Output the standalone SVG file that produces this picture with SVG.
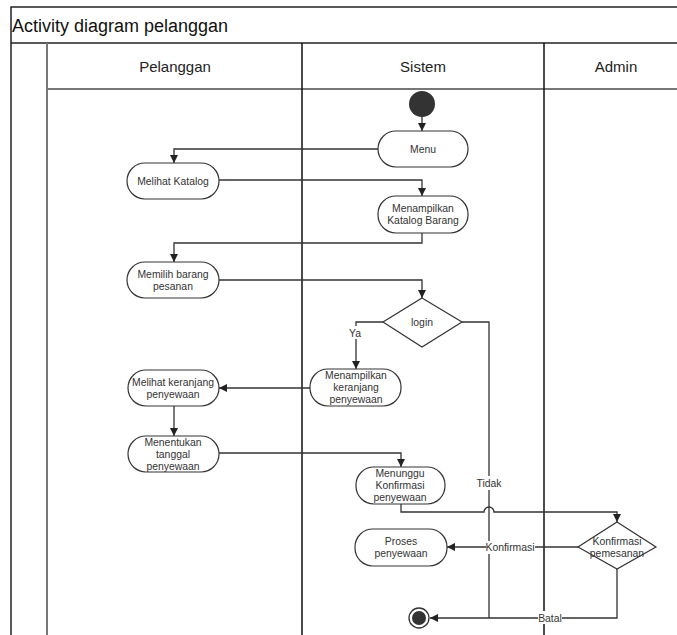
<svg xmlns="http://www.w3.org/2000/svg" width="677" height="635" viewBox="0 0 677 635">
<defs>
<style>
.frame{fill:none;stroke:#222;stroke-width:1.5}
.gray{fill:none;stroke:#777;stroke-width:2}
.lane{fill:none;stroke:#111;stroke-width:1.5}
.node{fill:#fff;stroke:#333;stroke-width:1.2}
.t{font-family:"Liberation Sans",Arial,sans-serif;font-size:10.4px;fill:#333;text-anchor:middle}
.hd{font-family:"Liberation Sans",Arial,sans-serif;font-size:15px;fill:#222;text-anchor:middle}
.ttl{font-family:"Liberation Sans",Arial,sans-serif;font-size:18px;fill:#111}
.c{fill:none;stroke:#333;stroke-width:1.3}
.ca{fill:none;stroke:#333;stroke-width:1.3;marker-end:url(#ah)}
.lbg{fill:#fff}
</style>
<marker id="ah" viewBox="0 0 8 8" refX="8" refY="4" markerWidth="8" markerHeight="8" markerUnits="userSpaceOnUse" orient="auto">
<path d="M0,0 L8,4 L0,8 z" fill="#222"/>
</marker>
</defs>
<rect x="0" y="0" width="677" height="635" fill="#fff"/>
<g id="frame">
<path class="frame" d="M11,635 V7 H690"/>
<path class="frame" d="M11,43 H690" stroke="#444"/>
<text class="ttl" x="12" y="32">Activity diagram pelanggan</text>
<path class="gray" d="M47,43 V635"/>
<path class="gray" d="M47,89 H690"/>
<path class="lane" d="M302,43 V635"/>
<path class="lane" d="M544,43 V635"/>
<text class="hd" x="175" y="72">Pelanggan</text>
<text class="hd" x="423" y="72">Sistem</text>
<text class="hd" x="616" y="72">Admin</text>
</g>
<g id="connectors">
<path class="ca" d="M422,117 V131"/>
<path class="ca" d="M378,149 H174 V163"/>
<path class="ca" d="M219,180 H422 V196"/>
<path class="ca" d="M422,233 V243 H174 V262"/>
<path class="ca" d="M219,280 H422 V298"/>
<path class="ca" d="M383,322 H356 V369"/>
<path class="c" d="M462,322 H489 V618"/>
<path class="ca" d="M310,388 H219"/>
<path class="ca" d="M174,406 V436"/>
<path class="ca" d="M219,453 H401 V467"/>
<path class="ca" d="M401,504 V512 H484 A5,5 0 0 1 494,512 H617 V522"/>
<path class="ca" d="M578,547 H447"/>
<path class="ca" d="M617,569 V618 H430"/>
</g>
<g id="start"><circle cx="422" cy="104" r="13" fill="#333"/></g>
<g id="menu"><rect class="node" x="378" y="131" width="90" height="36" rx="18"/><text class="t" x="423" y="152.6">Menu</text></g>
<g id="melihat-katalog"><rect class="node" x="127" y="163" width="92" height="36" rx="18"/><text class="t" x="173" y="184.6">Melihat Katalog</text></g>
<g id="menampilkan-katalog"><rect class="node" x="378" y="196" width="90" height="37" rx="18"/><text class="t" x="423" y="212">Menampilkan</text><text class="t" x="423" y="224">Katalog Barang</text></g>
<g id="memilih"><rect class="node" x="127" y="262" width="92" height="36" rx="18"/><text class="t" x="173" y="277.6">Memilih barang</text><text class="t" x="173" y="289.6">pesanan</text></g>
<g id="login"><path class="node" d="M422,298 L462,322 L422,347 L383,322 Z"/><text class="t" x="422" y="325.6">login</text></g>
<g id="menampilkan-keranjang"><rect class="node" x="310" y="369" width="91" height="37" rx="18"/><text class="t" x="356" y="379">Menampilkan</text><text class="t" x="356" y="391">keranjang</text><text class="t" x="356" y="403">penyewaan</text></g>
<g id="melihat-keranjang"><rect class="node" x="128" y="370" width="91" height="36" rx="18"/><text class="t" x="173" y="385.6">Melihat keranjang</text><text class="t" x="173" y="397.6">penyewaan</text></g>
<g id="menentukan"><rect class="node" x="128" y="436" width="91" height="36" rx="18"/><text class="t" x="173" y="445.6">Menentukan</text><text class="t" x="173" y="457.6">tanggal</text><text class="t" x="173" y="469.6">penyewaan</text></g>
<g id="menunggu"><rect class="node" x="356" y="467" width="89" height="37" rx="18"/><text class="t" x="400" y="476.6">Menunggu</text><text class="t" x="400" y="488.6">Konfirmasi</text><text class="t" x="400" y="500.6">penyewaan</text></g>
<g id="konfirmasi-pemesanan"><path class="node" d="M617,522 L656,547 L617,569 L578,547 Z"/><text class="t" x="617" y="544.6">Konfirmasi</text><text class="t" x="617" y="556.6">pemesanan</text></g>
<g id="proses"><rect class="node" x="355" y="529" width="92" height="37" rx="18"/><text class="t" x="401" y="544.6">Proses</text><text class="t" x="401" y="556.6">penyewaan</text></g>
<g id="end"><circle cx="419" cy="618" r="10" fill="#fff" stroke="#333" stroke-width="1.3"/><circle cx="419" cy="618" r="7" fill="#333"/></g>
<g id="labels">
<rect class="lbg" x="347" y="326" width="16" height="13"/><text class="t" x="355" y="336.6">Ya</text>
<rect class="lbg" x="476" y="476" width="26" height="14"/><text class="t" x="489" y="486.6">Tidak</text>
<rect class="lbg" x="486" y="541" width="49" height="13"/><text class="t" x="510" y="550.6">Konfirmasi</text>
<rect class="lbg" x="538" y="611" width="24" height="13"/><text class="t" x="550" y="621.6">Batal</text>
</g>
</svg>
